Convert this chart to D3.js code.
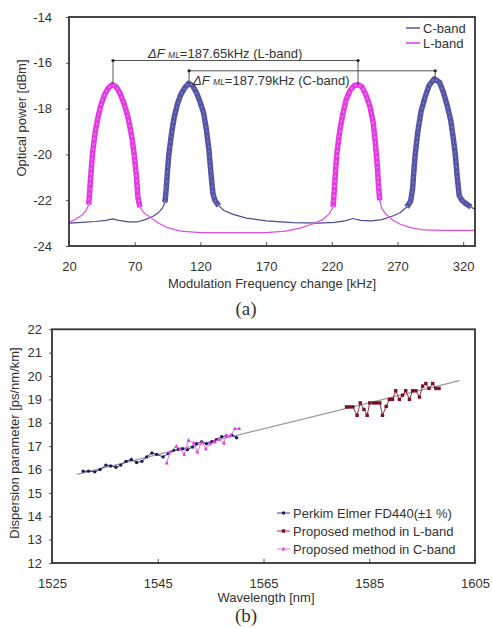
<!DOCTYPE html>
<html><head><meta charset="utf-8">
<script src="https://cdn.jsdelivr.net/npm/d3@7"></script>
<style>
body{margin:0;background:#fff}
text{font-family:"Liberation Sans",Arial,Helvetica,sans-serif;fill:#333}
</style>
</head><body>
<svg id="chart" width="492" height="628"></svg>
<script>
// ---------- Chart (a) data ----------
const freqTicks = [20, 70, 120, 170, 220, 270, 320];
const powerTicks = [-14, -16, -18, -20, -22, -24];
const cBandFreq = [20,30,40,48,53,58,65,72,78,84,88,91,93,94,95,96,98,100,102.5,105,108,111,114,117,120,122.5,124.5,126.5,128,129.5,131,134,138,145,155,170,190,210,222,230,236,242,250,258,266,272,277,280,281.5,282.5,283.5,285.5,288,291,294,298,302,305,308,310.5,312.5,314,315.5,317,319,322,326,329];
const cBandPower = [-23.0,-22.97,-22.93,-22.88,-22.82,-22.88,-22.95,-22.95,-22.85,-22.7,-22.55,-22.35,-22.1,-21.5,-20.7,-20.0,-19.1,-18.4,-17.8,-17.4,-17.1,-16.9,-17.0,-17.3,-17.75,-18.2,-18.9,-19.8,-20.8,-21.7,-22.0,-22.25,-22.45,-22.62,-22.78,-22.9,-22.98,-23.0,-22.97,-22.9,-22.8,-22.88,-22.9,-22.85,-22.7,-22.55,-22.3,-22.05,-21.5,-20.7,-20.0,-19.0,-18.1,-17.5,-17.0,-16.7,-16.85,-17.3,-17.9,-18.5,-19.3,-20.0,-21.0,-21.8,-22.0,-22.15,-22.3,-22.4];
const lBandFreq = [20,26,30,33,35,36,37,38,40,42,44,47,50,53,56,59,62,65,68,70,71.5,72.5,74,77,82,88,95,105,120,145,170,185,196,205,213,218,221,222,223,224,226,228.5,231,234,237,240,243,246,249,251.5,253,254.5,255.5,256.5,258,261,266,272,280,290,305,329];
const lBandPower = [-22.98,-22.8,-22.65,-22.45,-22.2,-21.4,-20.6,-19.9,-19.0,-18.4,-17.9,-17.4,-17.1,-16.95,-17.05,-17.35,-17.8,-18.4,-19.3,-20.2,-21.1,-21.9,-22.3,-22.55,-22.75,-23.0,-23.2,-23.35,-23.42,-23.42,-23.42,-23.35,-23.22,-23.05,-22.85,-22.6,-22.3,-21.5,-20.6,-19.9,-19.0,-18.2,-17.6,-17.2,-17.0,-16.95,-17.05,-17.4,-17.9,-18.6,-19.4,-20.4,-21.3,-22.0,-22.35,-22.6,-22.85,-23.05,-23.2,-23.3,-23.32,-23.32];
const seriesNamesA = ["C-band", "L-band"];
const peaksL = [53.5, 240];
const peaksC = [111.4, 298.7];
const peakTopL = [-16.95, -16.95];
const peakTopC = [-16.9, -16.7];
const arrowLevelL = -15.9;
const arrowLevelC = -16.35;
const labelL = "=187.65kHz (L-band)";
const labelC = "=187.79kHz (C-band)";

// ---------- Chart (b) data ----------
const wlTicks = [1525, 1545, 1565, 1585, 1605];
const dispTicks = [12, 13, 14, 15, 16, 17, 18, 19, 20, 21, 22];
const fitWl = [1529.7, 1602.1];
const fitD = [15.79, 19.8];
const perkinWl = [1530.9,1531.9,1533.1,1534.1,1535.2,1536.1,1537.1,1538.0,1539.0,1540.0,1541.0,1542.0,1542.9,1543.9,1544.8,1546.0,1547.0,1548.0,1548.9,1549.7,1550.6,1551.6,1552.3,1553.3,1554.2,1555.2,1556.1,1557.1,1558.0,1559.0,1559.9];
const perkinD = [15.93,15.93,15.9,16.0,16.19,16.15,16.1,16.19,16.35,16.43,16.3,16.35,16.54,16.71,16.65,16.54,16.68,16.82,16.86,16.89,16.85,16.96,17.1,17.19,17.1,17.19,17.28,17.4,17.44,17.47,17.36];
const lPropWl = [1580.7,1581.3,1581.9,1582.7,1583.3,1584.0,1584.6,1585.1,1585.8,1586.4,1587.0,1587.5,1588.2,1588.8,1589.4,1590.0,1590.7,1591.3,1591.9,1592.6,1593.2,1593.8,1594.5,1595.1,1595.7,1596.3,1597.0,1597.6,1598.2];
const lPropD = [18.68,18.68,18.68,18.32,18.85,18.57,18.32,18.85,18.85,18.85,18.85,18.32,18.7,19.0,19.0,19.37,19.0,19.18,19.37,19.0,19.37,19.37,19.1,19.57,19.68,19.47,19.68,19.47,19.47];
const cPropWl = [1546.7,1547.3,1548.5,1549.2,1550.0,1550.8,1551.8,1552.5,1553.3,1554.1,1554.9,1555.8,1556.5,1557.5,1558.0,1558.8,1559.6,1560.4];
const cPropD = [16.28,16.75,17.0,16.89,16.65,17.25,17.14,16.75,17.18,16.89,17.1,17.18,17.3,17.14,17.46,17.46,17.75,17.75];
const seriesNamesB = ["Perkim Elmer FD440(\u00b11 %)", "Proposed method in L-band", "Proposed method in C-band"];

const svg = d3.select("#chart");

// ===================== Chart (a) =====================
const A = {l: 69, r: 475, t: 17, b: 246};
const xA = d3.scaleLinear().domain([20, 329]).range([A.l, A.r]);
const yA = d3.scaleLinear().domain([-24, -14]).range([A.b, A.t]);
const gA = svg.append("g");

const cData = cBandFreq.map((f, i) => ({f, p: cBandPower[i]}));
const lData = lBandFreq.map((f, i) => ({f, p: lBandPower[i]}));
const lineA = d3.line().x(d => xA(d.f)).y(d => yA(d.p));
const peakLine = d3.line().defined(d => d.p > -22.32).x(d => xA(d.f)).y(d => yA(d.p));

const styles = {
  C: {tail: "#4c4c8e", thick: "#5555a6", inner: "#8b8bc8"},
  L: {tail: "#e04ee0", thick: "#e33ae3", inner: "#f2a2f2"}
};
function drawCurve(data, st) {
  gA.append("path").datum(data).attr("d", lineA).attr("fill", "none")
    .attr("stroke", st.tail).attr("stroke-width", 1.2);
  gA.append("path").datum(data).attr("d", peakLine).attr("fill", "none")
    .attr("stroke", st.thick).attr("stroke-width", 5.5).attr("stroke-linejoin", "round");
  gA.append("path").datum(data).attr("d", peakLine).attr("fill", "none")
    .attr("stroke", st.inner).attr("stroke-width", 1.2).attr("stroke-dasharray", "2,3").attr("opacity", 0.8);
}
drawCurve(cData, styles.C);
drawCurve(lData, styles.L);

// axes (a)
const axA_y = gA.append("g").attr("transform", `translate(${A.l},0)`)
  .call(d3.axisLeft(yA).tickValues(powerTicks).tickSize(3).tickPadding(14).tickFormat(d => String(d)));
const axA_x = gA.append("g").attr("transform", `translate(0,${A.b})`)
  .call(d3.axisBottom(xA).tickValues(freqTicks).tickSize(-4).tickPadding(16).tickFormat(d => String(d)));
[axA_y, axA_x].forEach(ax => {
  ax.select(".domain").remove();
  ax.selectAll("text").attr("font-size", 13).attr("fill", "#333")
    .attr("font-family", '"Liberation Sans",Arial,sans-serif');
  ax.selectAll("line").attr("stroke", "#555");
});
gA.append("rect").attr("x", A.l).attr("y", A.t).attr("width", A.r - A.l).attr("height", A.b - A.t)
  .attr("fill", "none").attr("stroke", "#333").attr("stroke-width", 1.8);

gA.append("text").attr("x", (A.l + A.r) / 2).attr("y", 288).attr("text-anchor", "middle")
  .attr("font-size", 13).text("Modulation Frequency change [kHz]");
gA.append("text").attr("transform", `translate(26,118) rotate(-90)`).attr("text-anchor", "middle")
  .attr("font-size", 13).text("Optical power [dBm]");

// legend (a)
seriesNamesA.forEach((name, i) => {
  const y = 28 + i * 15;
  gA.append("line").attr("x1", 406).attr("x2", 420).attr("y1", y).attr("y2", y)
    .attr("stroke", i === 0 ? styles.C.thick : styles.L.thick).attr("stroke-width", 1.5);
  gA.append("text").attr("x", 423).attr("y", y + 4.5).attr("font-size", 13).text(name);
});

// annotations (a)
function annot(peaks, tops, level) {
  const y = yA(level);
  gA.append("line").attr("x1", xA(peaks[0])).attr("x2", xA(peaks[1])).attr("y1", y).attr("y2", y)
    .attr("stroke", "#444").attr("stroke-width", 0.9);
  peaks.forEach((p, i) => {
    gA.append("line").attr("x1", xA(p)).attr("x2", xA(p)).attr("y1", y).attr("y2", yA(tops[i]))
      .attr("stroke", "#444").attr("stroke-width", 0.9);
    gA.append("circle").attr("cx", xA(p)).attr("cy", y).attr("r", 1.6).attr("fill", "#222");
  });
}
annot(peaksL, peakTopL, arrowLevelL);
annot(peaksC, peakTopC, arrowLevelC);

function annotText(x, y, rest) {
  const t = gA.append("text").attr("x", x).attr("y", y).attr("font-size", 13);
  t.append("tspan").attr("font-style", "italic").text("\u0394F ");
  t.append("tspan").attr("font-style", "italic").attr("font-size", 8.5).text("ML");
  t.append("tspan").text(rest);
}
annotText(148, 57.5, labelL);
annotText(193, 84.5, labelC);

svg.append("text").attr("x", 246).attr("y", 315).attr("text-anchor", "middle")
  .attr("font-size", 19).style("font-family", '"Liberation Serif","Times New Roman",serif').text("(a)");

// ===================== Chart (b) =====================
const B = {l: 52, r: 475, t: 329.3, b: 563};
const xB = d3.scaleLinear().domain([1525, 1605]).range([B.l, B.r]);
const yB = d3.scaleLinear().domain([12, 22]).range([B.b, B.t]);
const gB = svg.append("g");

const lineB = d3.line().x(d => xB(d.w)).y(d => yB(d.v));
gB.append("path").datum(fitWl.map((w, i) => ({w, v: fitD[i]}))).attr("d", lineB)
  .attr("fill", "none").attr("stroke", "#9a9a9a").attr("stroke-width", 1.3);

const seriesB = [
  {wl: perkinWl, d: perkinD, color: "#1c1c5c", lineColor: "#3a3a7a", shape: "circle"},
  {wl: lPropWl, d: lPropD, color: "#7a0f25", lineColor: "#9a3045", shape: "square"},
  {wl: cPropWl, d: cPropD, color: "#e03ce0", lineColor: "#ea70ea", shape: "tri"}
];
function marker(g, x, y, s) {
  if (s.shape === "circle") g.append("circle").attr("cx", x).attr("cy", y).attr("r", 1.7).attr("fill", s.color);
  else if (s.shape === "square") g.append("rect").attr("x", x - 1.7).attr("y", y - 1.7).attr("width", 3.4).attr("height", 3.4).attr("fill", s.color);
  else g.append("path").attr("d", `M${x},${y - 2.2}L${x + 2},${y + 1.5}L${x - 2},${y + 1.5}Z`).attr("fill", s.color);
}
seriesB.forEach(s => {
  const data = s.wl.map((w, i) => ({w, v: s.d[i]}));
  gB.append("path").datum(data).attr("d", lineB).attr("fill", "none")
    .attr("stroke", s.lineColor).attr("stroke-width", 1);
  data.forEach(d => marker(gB, xB(d.w), yB(d.v), s));
});

const axB_y = gB.append("g").attr("transform", `translate(${B.l},0)`)
  .call(d3.axisLeft(yB).tickValues(dispTicks).tickSize(3).tickPadding(7).tickFormat(d => String(d)));
const axB_x = gB.append("g").attr("transform", `translate(0,${B.b})`)
  .call(d3.axisBottom(xB).tickValues(wlTicks).tickSize(-4).tickPadding(15.5).tickFormat(d => String(d)));
[axB_y, axB_x].forEach(ax => {
  ax.select(".domain").remove();
  ax.selectAll("text").attr("font-size", 13).attr("fill", "#333")
    .attr("font-family", '"Liberation Sans",Arial,sans-serif');
  ax.selectAll("line").attr("stroke", "#555");
});
gB.append("rect").attr("x", B.l).attr("y", B.t).attr("width", B.r - B.l).attr("height", B.b - B.t)
  .attr("fill", "none").attr("stroke", "#333").attr("stroke-width", 1.8);

gB.append("text").attr("x", 266).attr("y", 602).attr("text-anchor", "middle")
  .attr("font-size", 13).text("Wavelength [nm]");
gB.append("text").attr("transform", `translate(19,443) rotate(-90)`).attr("text-anchor", "middle")
  .attr("font-size", 13).text("Dispersion parameter [ps/nm/km]");

// legend (b)
seriesNamesB.forEach((name, i) => {
  const y = 513 + i * 18;
  const s = seriesB[i];
  gB.append("line").attr("x1", 277).attr("x2", 290).attr("y1", y).attr("y2", y)
    .attr("stroke", s.lineColor).attr("stroke-width", 1);
  marker(gB, 283.5, y, s);
  gB.append("text").attr("x", 293).attr("y", y + 4.5).attr("font-size", 13).text(name);
});

svg.append("text").attr("x", 246).attr("y", 622).attr("text-anchor", "middle")
  .attr("font-size", 19).style("font-family", '"Liberation Serif","Times New Roman",serif').text("(b)");
</script>
</body></html>
